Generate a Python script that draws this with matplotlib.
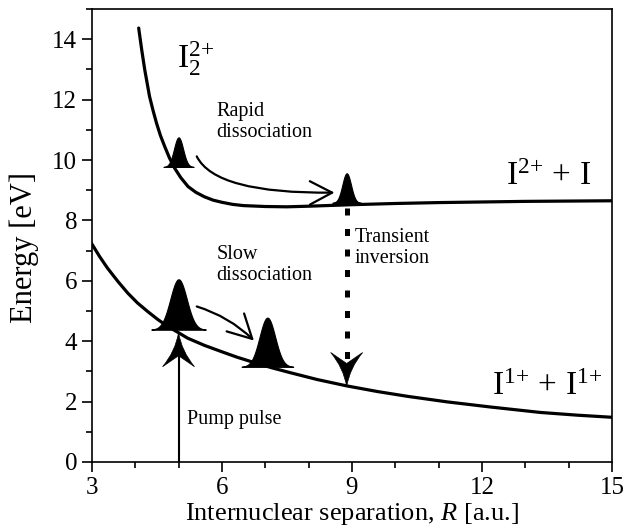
import numpy as np
import matplotlib
matplotlib.use("Agg")
import matplotlib.pyplot as plt
from matplotlib.path import Path
from matplotlib.patches import PathPatch, FancyArrowPatch
import matplotlib.transforms as mtransforms
from matplotlib.ticker import MultipleLocator

plt.rcParams["font.family"] = ["Liberation Serif", "DejaVu Serif"]
plt.rcParams["mathtext.fontset"] = "custom"
plt.rcParams["mathtext.rm"] = "Liberation Serif"
plt.rcParams["mathtext.it"] = "Liberation Serif:italic"

# Potential energy curves (R in a.u., energy in eV)
r_dication = [4.08, 4.15, 4.22, 4.33, 4.41, 4.49, 4.58, 4.68, 4.79, 4.91, 5.05,
              5.22, 5.40, 5.60, 5.80, 6.00, 6.25, 6.50, 7.00, 7.50, 8.00, 9.00,
              10.0, 11.0, 12.0, 13.0, 14.0, 15.0]
e_dication = [14.37, 13.65, 12.99, 12.11, 11.65, 11.23, 10.82, 10.45, 10.07, 9.73,
              9.42, 9.12, 8.93, 8.78, 8.67, 8.60, 8.53, 8.49, 8.46, 8.45, 8.47,
              8.52, 8.56, 8.59, 8.61, 8.63, 8.64, 8.65]

r_monocation = [3.00, 3.18, 3.36, 3.60, 3.83, 4.05, 4.29, 4.52, 4.75, 5.00, 5.21,
                5.60, 5.98, 6.35, 6.75, 7.15, 7.57, 8.20, 8.88, 9.60, 10.3, 11.2,
                12.2, 13.35, 14.2, 15.0]
e_monocation = [7.22, 6.80, 6.42, 5.98, 5.59, 5.27, 4.98, 4.72, 4.49, 4.28, 4.10,
                3.86, 3.66, 3.47, 3.29, 3.12, 2.96, 2.73, 2.52, 2.33, 2.17, 1.99,
                1.82, 1.64, 1.55, 1.48]

# Wave packets: centre R, base energy, peak height, width
packet_r = [5.0, 8.88, 5.0, 7.05]
packet_base = [9.77, 8.58, 4.38, 3.15]
packet_height = [0.98, 0.98, 1.67, 1.63]
packet_width = [0.105, 0.10, 0.19, 0.18]

# Vertical transitions
pump_r, pump_from, pump_to = 5.0, 0.0, 4.28
probe_r, probe_from, probe_to = 8.88, 8.40, 2.50

fig = plt.figure(figsize=(6.25, 5.31), dpi=100)
ax = fig.add_axes([0.147, 0.130, 0.832, 0.853])

ax.plot(r_dication, e_dication, color="black", lw=2.3, solid_joinstyle="round",
        solid_capstyle="round")
ax.plot(r_monocation, e_monocation, color="black", lw=2.3, solid_joinstyle="round")

for c, b, h, w in zip(packet_r, packet_base, packet_height, packet_width):
    x = np.linspace(c - 3.3 * w, c + 3.3 * w, 200)
    y = b + h * np.exp(-0.5 * ((x - c) / w) ** 2)
    ax.fill_between(x, b, y, color="black", lw=0.8, edgecolor="black")


def stealth_head(ax, x, y, angle, length=0.34, width=0.32, notch=0.11):
    """Filled swept-back arrowhead with its tip at data point (x, y)."""
    L, hw = length, width / 2
    verts = [(0, 0), (-0.20 * hw, -0.55 * L), (-hw, -L), (0, -L + notch),
             (hw, -L), (0.20 * hw, -0.55 * L), (0, 0), (0, 0)]
    codes = [Path.MOVETO, Path.CURVE3, Path.CURVE3, Path.LINETO,
             Path.LINETO, Path.CURVE3, Path.CURVE3, Path.CLOSEPOLY]
    rot = mtransforms.Affine2D().rotate_deg(angle)
    trans = (rot + fig.dpi_scale_trans
             + mtransforms.ScaledTranslation(x, y, ax.transData))
    ax.add_patch(PathPatch(Path(verts, codes), transform=trans,
                           facecolor="black", edgecolor="black", lw=0.5,
                           zorder=5))


# Pump pulse arrow
ax.plot([pump_r, pump_r], [pump_from, pump_to - 0.6], color="black", lw=1.5)
stealth_head(ax, pump_r, pump_to, 0)

# Transient inversion arrow (dashed)
ax.plot([probe_r, probe_r], [probe_from, probe_to + 0.75], color="black", lw=3.6,
        dashes=(1.4, 2.7), dash_capstyle="butt")
stealth_head(ax, probe_r, probe_to, 180)

# Rapid dissociation arrow
rapid = Path([(5.42, 10.12), (5.85, 8.88), (8.60, 8.92)],
             [Path.MOVETO, Path.CURVE3, Path.CURVE3])
ax.add_patch(FancyArrowPatch(path=rapid, arrowstyle="->,head_length=0.8,head_width=0.42",
                             mutation_scale=20, lw=1.6, color="black"))

# Slow dissociation arrow
ax.add_patch(FancyArrowPatch((5.42, 5.15), (6.74, 4.02),
                             connectionstyle="arc3,rad=-0.12",
                             arrowstyle="->,head_length=0.85,head_width=0.45",
                             mutation_scale=20, lw=1.6, color="black",
                             shrinkA=0, shrinkB=0))

# Labels
ax.text(4.96, 13.06, r"$\mathrm{I}_2^{2{+}}$", fontsize=24, va="baseline")
ax.text(12.55, 9.18, r"$\mathrm{I}^{2{+}}\,+\,\mathrm{I}$", fontsize=24,
        va="baseline")
ax.text(12.24, 2.22, r"$\mathrm{I}^{1{+}}\,+\,\mathrm{I}^{1{+}}$", fontsize=24,
        va="baseline")
ax.text(5.88, 10.76, "Rapid\ndissociation", fontsize=14.5, va="baseline",
        linespacing=1.15)
ax.text(5.88, 6.03, "Slow\ndissociation", fontsize=14.5, va="baseline",
        linespacing=1.15)
ax.text(9.07, 6.59, "Transient\ninversion", fontsize=14.5, va="baseline",
        linespacing=1.15)
ax.text(5.19, 1.26, "Pump pulse", fontsize=14.5, va="baseline")

ax.set_xlim(3, 15)
ax.set_ylim(0, 15)
ax.xaxis.set_major_locator(MultipleLocator(3))
ax.xaxis.set_minor_locator(MultipleLocator(1))
ax.yaxis.set_major_locator(MultipleLocator(2))
ax.yaxis.set_minor_locator(MultipleLocator(1))
ax.tick_params(which="both", direction="out", width=1.2, labelsize=18,
               top=False, right=False)
ax.tick_params(which="major", length=7)
ax.tick_params(which="minor", length=4)
for s in ax.spines.values():
    s.set_linewidth(1.2)

ax.set_xlabel(r"Internuclear separation, $R$ [a.u.]", fontsize=19, labelpad=2)
ax.set_ylabel("Energy [eV]", fontsize=22)
ax.yaxis.set_label_coords(-0.102, 0.473)

fig.savefig("out.png", dpi=100)
